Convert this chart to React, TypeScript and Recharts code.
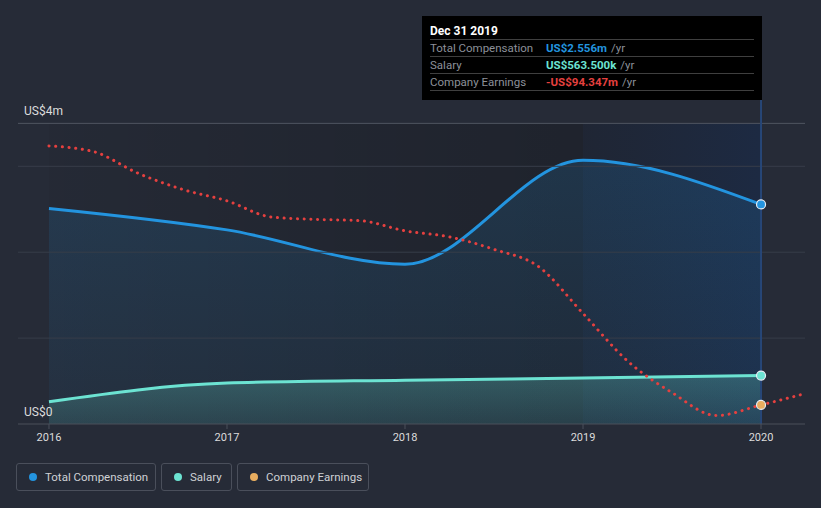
import React from 'react'
import {
  ComposedChart, Area, Line, XAxis, YAxis, ReferenceArea, ReferenceLine,
} from 'recharts'

const bg = '#262b37', blue = '#2394df', teal = '#6ce3d2', red = '#e5403f', orange = '#e8ad5f'
const grid = '#373d49', axis = '#4b505b', txt = '#dcdcdc', gray = '#8c9099'

// annual points (US$ m)
const years = [2016, 2017, 2018, 2019, 2020]
const totalComp = [2.51, 2.26, 1.86, 3.07, 2.556]
const salary = [0.26, 0.477, 0.51, 0.535, 0.5635]

// company earnings (US$ m, own scale)
const earnYears = [2016, 2016.25, 2016.5, 2016.75, 2017, 2017.25, 2017.5, 2017.75, 2018, 2018.25, 2018.5, 2018.75, 2019, 2019.25, 2019.5, 2019.75, 2020, 2020.24]
const earnings = [-17.5, -19.2, -25.6, -30.4, -33.8, -38.6, -39.3, -39.7, -42.7, -44.5, -48.2, -53.3, -67.2, -81.3, -90.7, -97.5, -94.347, -91.1]

const yTicks = [0, 1, 2, 3, 3.5]
const gridLines = [1, 2, 3]
const yLabels: Record<string, string> = { '0': 'US$0', '3.5': 'US$4m' }

const legendItems = [
  { label: 'Total Compensation', color: blue, w: 140 },
  { label: 'Salary', color: teal, w: 71 },
  { label: 'Company Earnings', color: orange, w: 132 },
]

const tipRows = [
  { label: 'Total Compensation', value: 'US$2.556m', color: blue },
  { label: 'Salary', value: 'US$563.500k', color: teal },
  { label: 'Company Earnings', value: '-US$94.347m', color: red },
]

type Row = { x: number; comp?: number; salary?: number; earn?: number }

const rows: Row[] = (() => {
  const m: Record<string, Row> = {}
  earnYears.forEach((x, i) => { m[x] = { x, earn: earnings[i] } })
  years.forEach((x, i) => {
    m[x] = { ...(m[x] ?? { x }), comp: totalComp[i], salary: salary[i] }
  })
  return Object.values(m).sort((a, b) => a.x - b.x)
})()

const endDot = (color: string) => (p: any) => {
  if (p.payload?.x !== 2020 || p.cx == null || p.cy == null) return <g key={p.index} />
  return <circle key={p.index} cx={p.cx} cy={p.cy} r={4.5} fill={color} stroke="#e8eef5" strokeWidth={1.2} />
}

const yTick = (p: any) => {
  const label = yLabels[String(p.payload?.value)]
  if (!label) return <g key={p.index} />
  return (
    <text key={p.index} x={24} y={p.y - 8} fill={txt} fontSize={12} textAnchor="start">{label}</text>
  )
}

export default function App() {
  return (
    <div style={{ position: 'fixed', left: 0, top: 0, width: 821, height: 508, background: bg, fontFamily: 'Roboto, sans-serif', overflow: 'hidden' }}>
      <ComposedChart width={821} height={455} data={rows} margin={{ top: 100, right: 16, left: 17, bottom: 0 }}>
        <defs>
          <linearGradient id="darkBg" x1="0" y1="0" x2="1" y2="0">
            <stop offset="0%" stopColor="#000" stopOpacity={0.07} />
            <stop offset="100%" stopColor="#000" stopOpacity={0.38} />
          </linearGradient>
          <linearGradient id="blueBg" x1="0" y1="0" x2="1" y2="0">
            <stop offset="0%" stopColor="#0f192d" stopOpacity={0.58} />
            <stop offset="100%" stopColor="#0a285a" stopOpacity={0.65} />
          </linearGradient>
          <linearGradient id="compFill" x1="0" y1="0" x2="0" y2="1">
            <stop offset="0%" stopColor={blue} stopOpacity={0.27} />
            <stop offset="100%" stopColor={blue} stopOpacity={0.1} />
          </linearGradient>
          <linearGradient id="salFill" x1="0" y1="0" x2="0" y2="1">
            <stop offset="0%" stopColor={teal} stopOpacity={0.42} />
            <stop offset="100%" stopColor={teal} stopOpacity={0.2} />
          </linearGradient>
        </defs>
        <XAxis
          dataKey="x" type="number" domain={[2015.826, 2020.247]} ticks={years} allowDataOverflow
          tick={{ fill: txt, fontSize: 11 }} axisLine={{ stroke: axis }} tickLine={{ stroke: axis }}
          tickSize={5} tickMargin={4} height={31}
        />
        <YAxis yAxisId="m" domain={[0, 3.772]} ticks={yTicks} width={1} axisLine={false} tickLine={false} tick={yTick} />
        <YAxis yAxisId="e" hide domain={[-100, -3.88]} />
        <ReferenceArea yAxisId="m" x1={2016} x2={2019} y1={0} y2={3.5} fill="url(#darkBg)" stroke="none" />
        <ReferenceArea yAxisId="m" x1={2019} x2={2020} y1={0} y2={3.5} fill="url(#blueBg)" stroke="none" />
        {gridLines.map(v => (
          <ReferenceLine key={v} yAxisId="m" y={v} stroke={grid} />
        ))}
        <ReferenceLine yAxisId="m" y={3.5} stroke="#4f5561" />
        <ReferenceLine yAxisId="m" x={2020} stroke="#274677" strokeWidth={2} />
        <Area
          yAxisId="m" type="monotone" dataKey="comp" stroke={blue} strokeWidth={3} fill="url(#compFill)"
          connectNulls dot={endDot(blue)} activeDot={false} isAnimationActive={false}
        />
        <Area
          yAxisId="m" type="monotone" dataKey="salary" stroke={teal} strokeWidth={3} fill="url(#salFill)"
          connectNulls dot={endDot(teal)} activeDot={false} isAnimationActive={false}
        />
        <Line
          yAxisId="e" type="monotone" dataKey="earn" stroke={red} strokeWidth={3} strokeDasharray="0.1 6.6"
          strokeLinecap="round" connectNulls dot={endDot(orange)} activeDot={false} isAnimationActive={false}
        />
      </ComposedChart>

      {/* tooltip */}
      <div style={{ position: 'absolute', left: 422, top: 16, width: 340, height: 84, boxSizing: 'border-box', background: '#000', padding: '7px 8px 0' }}>
        <div style={{ height: 16, lineHeight: '16px', fontSize: 12, fontWeight: 700, color: '#fff', borderBottom: '1px solid #3f3f3f' }}>Dec 31 2019</div>
        {tipRows.map(r => (
          <div key={r.label} style={{ display: 'flex', height: 16, lineHeight: '16px', fontSize: 11.5, borderBottom: '1px solid #3f3f3f' }}>
            <span style={{ width: 116, color: gray }}>{r.label}</span>
            <span style={{ color: r.color, fontWeight: 700 }}>{r.value}</span>
            <span style={{ color: gray, marginLeft: 4 }}>/yr</span>
          </div>
        ))}
      </div>

      {/* legend */}
      <div style={{ position: 'absolute', left: 16, top: 463, display: 'flex', gap: 5 }}>
        {legendItems.map(l => (
          <div key={l.label} style={{ display: 'flex', alignItems: 'center', gap: 8, width: l.w, height: 28, boxSizing: 'border-box', padding: '0 0 0 12px', border: '1px solid #4a4f5b', borderRadius: 3, fontSize: 11.5, color: '#cfd1d5', whiteSpace: 'nowrap' }}>
            <div style={{ width: 8, height: 8, borderRadius: '50%', background: l.color, flexShrink: 0 }} />{l.label}
          </div>
        ))}
      </div>
    </div>
  )
}
